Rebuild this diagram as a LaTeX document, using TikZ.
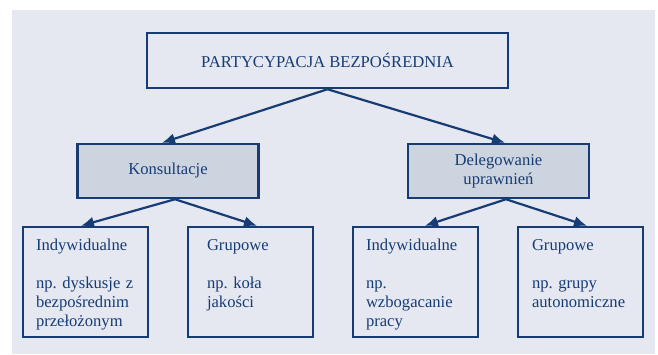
\documentclass[tikz,border=0pt]{standalone}
\usepackage{fontspec}
\setmainfont{Liberation Serif}
\usetikzlibrary{arrows.meta,positioning}
\definecolor{tlo}{HTML}{E5E8F1}
\definecolor{ramka}{HTML}{173C74}
\definecolor{szary}{HTML}{CCD4E0}
\newcommand{\pierwszy}{\rule{0pt}{19pt}}
\tikzset{
  box/.style={draw=ramka,line width=2.5pt,text=ramka,font=\rmfamily\frenchspacing\fontsize{16.6}{19}\selectfont},
  glowny/.style={box,minimum width=361pt,minimum height=55pt},
  srodek/.style={box,fill=szary,minimum width=181pt,minimum height=54pt,align=center,font=\rmfamily\fontsize{16.6}{18.5}\selectfont},
  lisc/.style={box,minimum width=125pt,minimum height=110pt,text width=99pt,inner xsep=13pt,align=left},
  strz/.style={draw=ramka,line width=2.2pt,-{Latex[length=13pt,width=11pt]}}
}
\begin{document}
\begin{tikzpicture}[x=1pt,y=-1pt]
  \useasboundingbox (0,0) rectangle (658,354);
  \fill[tlo] (12,10) rectangle (655,354);
  % gorny poziom
  \node[glowny] (root) at (327.5,60.5) {PARTYCYPACJA BEZPOŚREDNIA};
  % drugi poziom
  \node[srodek] (kons) at (168,171) {Konsultacje};
  \node[srodek] (dele) at (498.5,171) {Delegowanie\\uprawnień};
  % trzeci poziom
  \node[lisc] (kind) at (85.5,282) {\pierwszy Indywidualne\\\strut\\\strut np. dyskusje z\\\strut bezpośrednim\\\strut przełożonym};
  \node[lisc,inner xsep=19pt,text width=87pt] (kgrp) at (250.5,282) {\pierwszy Grupowe\\\strut\\\strut np. koła\\\strut jakości\\\strut};
  \node[lisc] (dind) at (415.5,282) {\pierwszy Indywidualne\\\strut\\\strut np.\\\strut wzbogacanie\\\strut pracy};
  \node[lisc,inner xsep=14pt,text width=97pt] (dgrp) at (580.5,282) {\pierwszy Grupowe\\\strut\\\strut np. grupy\\\strut autonomiczne\\\strut};
  % strzalki
  \draw[strz] (root.south) -- ([xshift=-6pt]kons.north);
  \draw[strz] (root.south) -- ([xshift=6.5pt]dele.north);
  \draw[strz] ([xshift=7pt]kons.south) -- ([xshift=-4.5pt]kind.north);
  \draw[strz] ([xshift=7pt]kons.south) -- ([xshift=6.5pt]kgrp.north);
  \draw[strz] ([xshift=7.5pt]dele.south) -- ([xshift=9.5pt]dind.north);
  \draw[strz] ([xshift=7.5pt]dele.south) -- ([xshift=6.5pt]dgrp.north);
\end{tikzpicture}
\end{document}
